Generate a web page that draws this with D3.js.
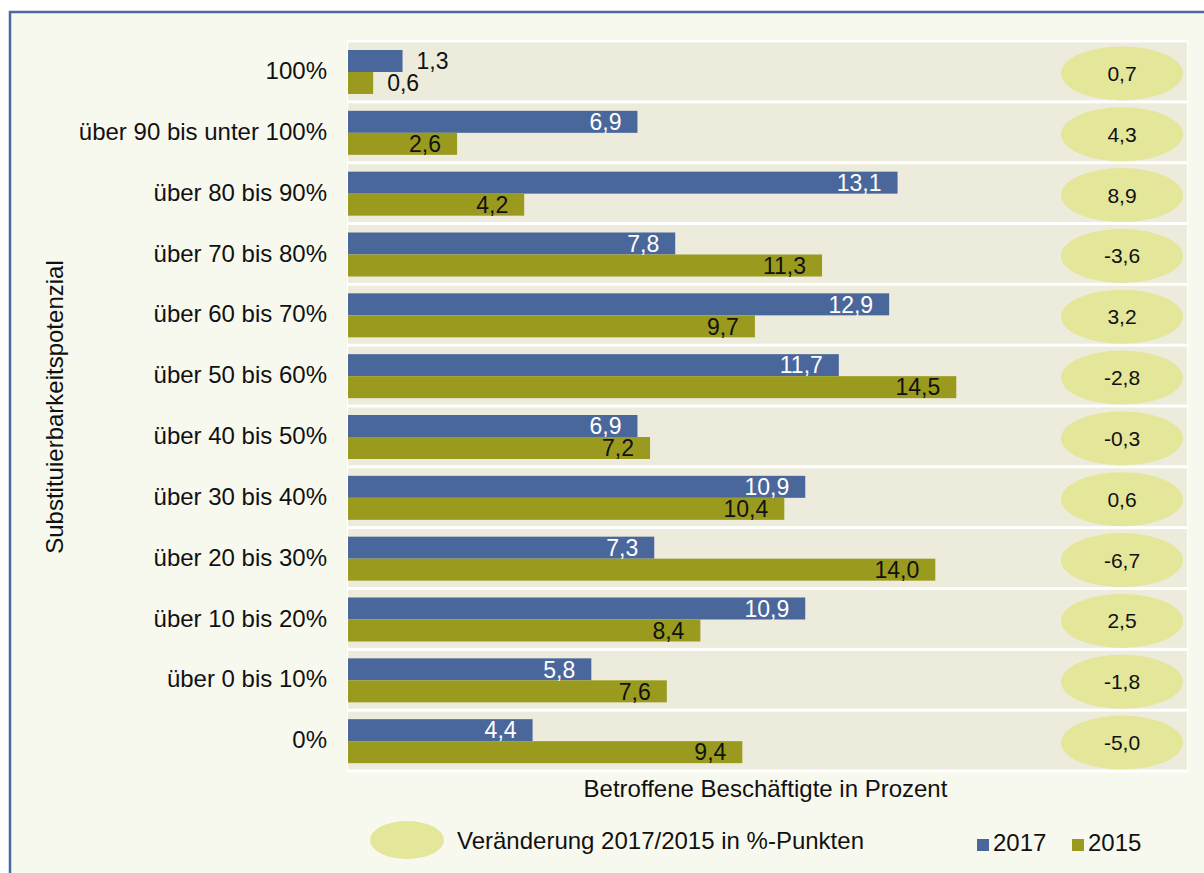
<!DOCTYPE html>
<html>
<head>
<meta charset="utf-8">
<script src="https://cdn.jsdelivr.net/npm/d3@7"></script>
<style>
  html, body { margin: 0; padding: 0; background: #ffffff; }
  svg { display: block; font-family: "Liberation Sans", Arial, sans-serif; }
</style>
</head>
<body>
<svg id="chart" width="1204" height="873"></svg>
<script>
const categories = ["100%", "über 90 bis unter 100%", "über 80 bis 90%", "über 70 bis 80%",
  "über 60 bis 70%", "über 50 bis 60%", "über 40 bis 50%", "über 30 bis 40%",
  "über 20 bis 30%", "über 10 bis 20%", "über 0 bis 10%", "0%"];
const values2017 = [1.3, 6.9, 13.1, 7.8, 12.9, 11.7, 6.9, 10.9, 7.3, 10.9, 5.8, 4.4];
const values2015 = [0.6, 2.6, 4.2, 11.3, 9.7, 14.5, 7.2, 10.4, 14.0, 8.4, 7.6, 9.4];
const changes = [0.7, 4.3, 8.9, -3.6, 3.2, -2.8, -0.3, 0.6, -6.7, 2.5, -1.8, -5.0];
const seriesNames = ["2017", "2015"];
const xDomain = [0, 20];

const colors = { "2017": "#4a679c", "2015": "#9a9a1e" };
const fmt = v => d3.format(".1f")(v).replace(".", ",").replace("\u2212", "-");

const svg = d3.select("#chart");

// outer frame
svg.append("rect").attr("x", 10).attr("y", 12).attr("width", 1230).attr("height", 900)
  .attr("fill", "#f8f9ee").attr("stroke", "#4a6aa2").attr("stroke-width", 2.5);

const plot = { left: 348, right: 1187, top: 40, bottom: 770 };
const x = d3.scaleLinear().domain(xDomain).range([plot.left, plot.right]);
const y = d3.scaleBand().domain(categories).range([plot.top, plot.bottom]).padding(0);
const yInner = d3.scaleBand().domain(seriesNames).range([10, 54]).padding(0);

// plot background (white separators)
svg.append("rect").attr("x", plot.left - 1).attr("y", plot.top)
  .attr("width", plot.right - plot.left + 2).attr("height", plot.bottom - plot.top + 2.5)
  .attr("fill", "#ffffff");

const data = categories.map((c, i) => ({ cat: c, v2017: values2017[i], v2015: values2015[i], ch: changes[i] }));

svg.append("g").selectAll("rect").data(data).join("rect")
  .attr("x", plot.left).attr("y", d => y(d.cat) + 2.5)
  .attr("width", plot.right - plot.left).attr("height", y.bandwidth() - 3)
  .attr("fill", "#edebdc");

// ellipses for change
const eg = svg.append("g");
eg.selectAll("ellipse").data(data).join("ellipse")
  .attr("cx", 1122).attr("cy", d => y(d.cat) + y.bandwidth() / 2 + 3)
  .attr("rx", 61).attr("ry", 27)
  .attr("fill", "#e4e69a");
eg.selectAll("text").data(data).join("text")
  .attr("x", 1122).attr("y", d => y(d.cat) + y.bandwidth() / 2 + 3)
  .attr("dy", "0.36em").attr("text-anchor", "middle")
  .attr("font-size", 21).attr("fill", "#111")
  .text(d => fmt(d.ch));

// bars
const bars = [];
data.forEach(d => {
  bars.push({ cat: d.cat, s: "2017", v: d.v2017 });
  bars.push({ cat: d.cat, s: "2015", v: d.v2015 });
});
svg.append("g").selectAll("rect").data(bars).join("rect")
  .attr("x", x(0)).attr("y", d => y(d.cat) + yInner(d.s))
  .attr("width", d => x(d.v) - x(0)).attr("height", yInner.bandwidth())
  .attr("fill", d => colors[d.s]);

svg.append("g").selectAll("text").data(bars).join("text")
  .attr("x", d => d.v < 2 ? x(d.v) + 14 : x(d.v) - 16)
  .attr("y", d => y(d.cat) + yInner(d.s) + yInner.bandwidth() / 2)
  .attr("dy", "0.36em")
  .attr("text-anchor", d => d.v < 2 ? "start" : "end")
  .attr("font-size", 23)
  .attr("fill", d => (d.s === "2017" && d.v >= 2) ? "#ffffff" : "#111111")
  .text(d => fmt(d.v));

// category labels
svg.append("g").selectAll("text").data(categories).join("text")
  .attr("x", 327).attr("y", d => y(d) + y.bandwidth() / 2)
  .attr("dy", "0.36em").attr("text-anchor", "end")
  .attr("font-size", 24).attr("fill", "#111")
  .text(d => d);

// axis titles
svg.append("text").attr("transform", `translate(63, ${(plot.top + plot.bottom) / 2 + 2}) rotate(-90)`)
  .attr("text-anchor", "middle").attr("font-size", 24).attr("fill", "#111")
  .text("Substituierbarkeitspotenzial");
svg.append("text").attr("x", (plot.left + plot.right) / 2 - 2).attr("y", 797)
  .attr("text-anchor", "middle").attr("font-size", 24).attr("fill", "#111")
  .text("Betroffene Beschäftigte in Prozent");

// legend
svg.append("ellipse").attr("cx", 407).attr("cy", 840).attr("rx", 37).attr("ry", 19).attr("fill", "#e4e69a");
svg.append("text").attr("x", 457).attr("y", 849).attr("font-size", 24).attr("fill", "#111")
  .text("Veränderung 2017/2015 in %-Punkten");
const lg = svg.append("g").selectAll("g").data(seriesNames).join("g")
  .attr("transform", (d, i) => `translate(${977 + i * 95}, 0)`);
lg.append("rect").attr("x", 0).attr("y", 839).attr("width", 12).attr("height", 12).attr("fill", d => colors[d]);
lg.append("text").attr("x", 16).attr("y", 851).attr("font-size", 24).attr("fill", "#111").text(d => d);
</script>
</body>
</html>
